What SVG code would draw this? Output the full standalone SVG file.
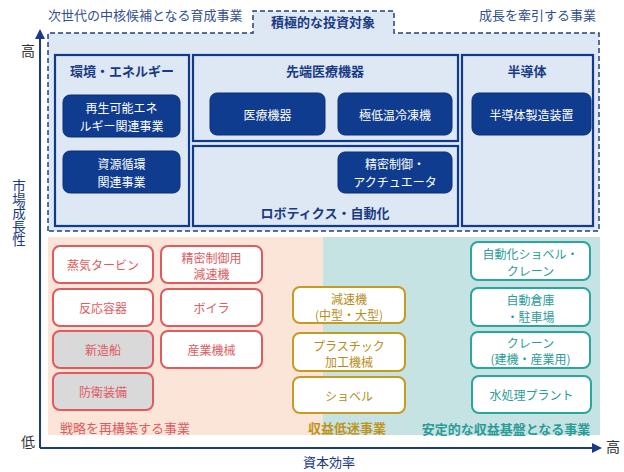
<svg xmlns="http://www.w3.org/2000/svg" width="624" height="472" viewBox="0 0 624 472">
<style>
text{font-family:"Noto Sans CJK JP","Noto Sans",sans-serif;}
.hdr{font-size:13px;font-weight:bold;fill:#1a3a86;text-anchor:middle;dominant-baseline:central}
.cap{font-size:13px;fill:#2f4f8f;dominant-baseline:central}
.sec{fill:#dde8f4;stroke:#123a8a;stroke-width:2.2}
.nv rect{fill:#0f3c8f;stroke:#0a2f78;stroke-width:1}
.nv text{fill:#fff;font-size:12px;text-anchor:middle;dominant-baseline:central}
.rd rect{fill:#fff;stroke:#e05a5e;stroke-width:2}
.rd text{fill:#e05a5e;font-size:12px;text-anchor:middle;dominant-baseline:central}
.rd rect.g{fill:#d9d9d9}
.gd rect{fill:#fff;stroke:#c79a22;stroke-width:2}
.gd text{fill:#b88d18;font-size:12px;text-anchor:middle;dominant-baseline:central}
.tl rect{fill:#fff;stroke:#2aa6a0;stroke-width:2}
.tl text{fill:#2a9c98;font-size:12px;text-anchor:middle;dominant-baseline:central}
.ax{stroke:#1a3a8a;stroke-width:2;fill:none}
</style>
<defs>
<marker id="ah" viewBox="0 0 10 10" refX="8" refY="5" markerWidth="5" markerHeight="5" orient="auto"><path d="M0,0 L10,5 L0,10 z" fill="#1a3a8a"/></marker>
</defs>

<!-- backgrounds -->
<g id="zone-invest">
<path d="M48,231 V33 H253 V11 H394 V33 H599 V231 Z" fill="#dde8f4" stroke="#24407e" stroke-width="1.5" stroke-dasharray="5,3"/>
<text class="hdr" x="323" y="21">積極的な投資対象</text>
</g>
<text class="cap" x="48" y="14">次世代の中核候補となる育成事業</text>
<text class="cap" x="596" y="14" text-anchor="end">成長を牽引する事業</text>
<rect x="48" y="237" width="276" height="198" fill="#fbe5d9"/>
<rect x="323" y="237" width="277" height="198" fill="#c6e3e3"/>

<!-- sections -->
<g id="sec-energy"><rect class="sec" x="55" y="55" width="134" height="171"/><text class="hdr" x="122" y="70">環境・エネルギー</text></g>
<g id="sec-medical"><rect class="sec" x="193" y="55" width="265" height="86"/><text class="hdr" x="325" y="70">先端医療機器</text></g>
<g id="sec-robotics"><rect class="sec" x="193" y="146" width="265" height="80"/><text class="hdr" x="325" y="212">ロボティクス・自動化</text></g>
<g id="sec-semi"><rect class="sec" x="462" y="55" width="131" height="171"/><text class="hdr" x="527" y="70">半導体</text></g>

<!-- navy nodes -->
<g id="n-renew" class="nv"><rect x="63" y="95" width="117" height="42" rx="7"/><text x="121.5" y="107">再生可能エネ</text><text x="121.5" y="125">ルギー関連事業</text></g>
<g id="n-resource" class="nv"><rect x="63" y="151" width="117" height="42" rx="7"/><text x="121.5" y="163">資源循環</text><text x="121.5" y="181">関連事業</text></g>
<g id="n-medical" class="nv"><rect x="210" y="93" width="115" height="42" rx="7"/><text x="267.5" y="114">医療機器</text></g>
<g id="n-cryo" class="nv"><rect x="338" y="93" width="114" height="42" rx="7"/><text x="395" y="114">極低温冷凍機</text></g>
<g id="n-actuator" class="nv"><rect x="338" y="152" width="114" height="41" rx="7"/><text x="395" y="163">精密制御・</text><text x="395" y="181">アクチュエータ</text></g>
<g id="n-semi" class="nv"><rect x="472" y="93" width="119" height="42" rx="7"/><text x="531.5" y="114">半導体製造装置</text></g>

<!-- red nodes -->
<g id="n-turbine" class="rd"><rect x="53" y="246" width="100" height="37" rx="7"/><text x="103" y="264.5">蒸気タービン</text></g>
<g id="n-precreducer" class="rd"><rect x="161" y="246" width="101" height="37" rx="7"/><text x="211.5" y="257">精密制御用</text><text x="211.5" y="273">減速機</text></g>
<g id="n-reactor" class="rd"><rect x="53" y="289" width="100" height="37" rx="7"/><text x="103" y="307.5">反応容器</text></g>
<g id="n-boiler" class="rd"><rect x="161" y="289" width="101" height="37" rx="7"/><text x="211.5" y="307.5">ボイラ</text></g>
<g id="n-ship" class="rd"><rect class="g" x="53" y="331" width="100" height="37" rx="7"/><text x="103" y="349.5">新造船</text></g>
<g id="n-industrial" class="rd"><rect x="161" y="331" width="101" height="37" rx="7"/><text x="211.5" y="349.5">産業機械</text></g>
<g id="n-defense" class="rd"><rect class="g" x="53" y="373" width="100" height="37" rx="7"/><text x="103" y="391.5">防衛装備</text></g>
<text x="60" y="427" font-size="13" fill="#e05a5e" dominant-baseline="central">戦略を再構築する事業</text>

<!-- gold nodes -->
<g id="n-reducer" class="gd"><rect x="293" y="287" width="112" height="36" rx="7"/><text x="349" y="298">減速機</text><text x="349" y="314">(中型・大型)</text></g>
<g id="n-plastic" class="gd"><rect x="293" y="333" width="112" height="38" rx="7"/><text x="349" y="345">プラスチック</text><text x="349" y="361">加工機械</text></g>
<g id="n-shovel" class="gd"><rect x="293" y="377" width="112" height="36" rx="7"/><text x="349" y="395">ショベル</text></g>
<text x="347" y="427" font-size="13" font-weight="bold" fill="#c0941c" text-anchor="middle" dominant-baseline="central">収益低迷事業</text>

<!-- teal nodes -->
<g id="n-autoshovel" class="tl"><rect x="471" y="242" width="119" height="38" rx="7"/><text x="530.5" y="253">自動化ショベル・</text><text x="530.5" y="270">クレーン</text></g>
<g id="n-warehouse" class="tl"><rect x="471" y="288" width="119" height="38" rx="7"/><text x="530.5" y="299">自動倉庫</text><text x="530.5" y="316">・駐車場</text></g>
<g id="n-crane" class="tl"><rect x="471" y="332" width="119" height="36" rx="7"/><text x="530.5" y="342">クレーン</text><text x="530.5" y="358">(建機・産業用)</text></g>
<g id="n-water" class="tl"><rect x="472" y="376" width="119" height="37" rx="7"/><text x="531.5" y="394.5">水処理プラント</text></g>
<text x="506" y="428" font-size="13" font-weight="bold" fill="#2a9c98" text-anchor="middle" dominant-baseline="central">安定的な収益基盤となる事業</text>

<!-- axes -->
<g id="connectors">
<line class="ax" x1="40" y1="448" x2="40" y2="31" marker-end="url(#ah)"/>
<line class="ax" x1="40" y1="448" x2="600" y2="448" marker-end="url(#ah)"/>
</g>
<text x="28" y="50" font-size="14" fill="#333" text-anchor="middle" dominant-baseline="central">高</text>
<text x="28" y="441" font-size="14" fill="#333" text-anchor="middle" dominant-baseline="central">低</text>
<text x="613" y="446" font-size="14" fill="#333" text-anchor="middle" dominant-baseline="central">高</text>
<text x="329" y="461" font-size="13" fill="#1a3a86" text-anchor="middle" dominant-baseline="central">資本効率</text>
<text x="19" y="213" font-size="13.5" fill="#1a3a86" text-anchor="middle" style="writing-mode:vertical-rl">市場成長性</text>
</svg>
